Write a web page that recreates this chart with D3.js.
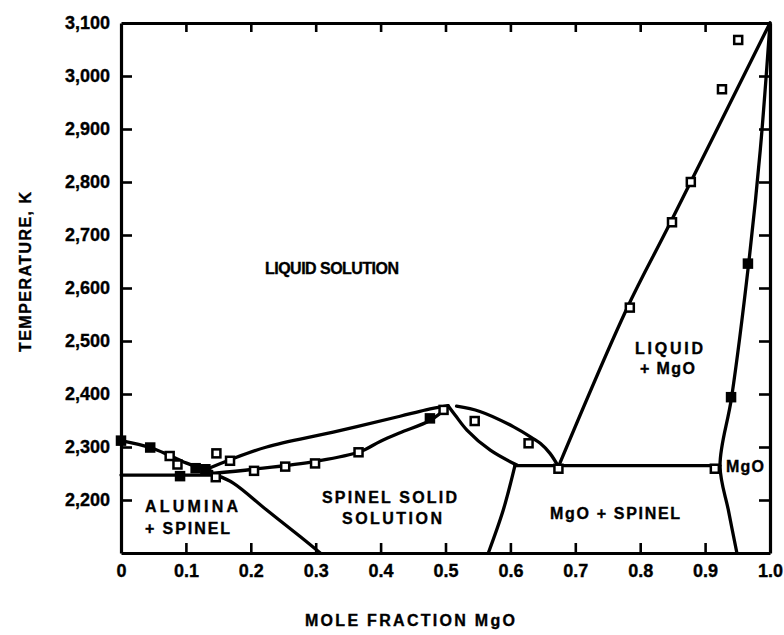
<!DOCTYPE html>
<html>
<head>
<meta charset="utf-8">
<script src="https://cdn.jsdelivr.net/npm/d3@7"></script>
<style>
  html, body { margin: 0; padding: 0; background: #fff; }
  svg { display: block; }
  text { font-family: "Liberation Sans", Arial, Helvetica, sans-serif; font-weight: bold; fill: #000; stroke: #000; stroke-width: 0.35px; }
</style>
</head>
<body>
<svg id="chart" width="784" height="635"></svg>
<script>
// ---------- data (mole fraction MgO, temperature K) ----------
const xTicks = [0, 0.1, 0.2, 0.3, 0.4, 0.5, 0.6, 0.7, 0.8, 0.9, 1.0];
const xTickLabels = ["0", "0.1", "0.2", "0.3", "0.4", "0.5", "0.6", "0.7", "0.8", "0.9", "1.0"];
const yTicks = [2200, 2300, 2400, 2500, 2600, 2700, 2800, 2900, 3000, 3100];

const leftLiquidus = [[0, 2312], [0.045, 2299], [0.075, 2284], [0.1, 2270], [0.125, 2260], [0.14, 2254]];
const spinelLiquidusLeft = [[0.13, 2257], [0.168, 2276], [0.2245, 2300], [0.327, 2328], [0.43, 2358], [0.47, 2370], [0.504, 2378]];
const spinelSolidusLeft = [[0.14, 2250], [0.204, 2258], [0.30, 2273], [0.368, 2291], [0.40, 2311], [0.43, 2327], [0.476, 2350], [0.504, 2376]];
const spinelSolidusRight = [[0.504, 2378], [0.515, 2360], [0.533, 2332], [0.569, 2294], [0.61, 2266]];
const spinelLiquidusRight = [[0.517, 2377], [0.553, 2367], [0.605, 2338], [0.635, 2316], [0.646, 2307], [0.661, 2288], [0.674, 2263]];
const leftEutectic = [[0, 2247], [0.147, 2247]];
const rightEutectic = [[0.607, 2265], [0.923, 2265]];
const leftSolvus = [[0.147, 2247], [0.173, 2232], [0.2245, 2181], [0.276, 2131], [0.307, 2100]];
const rightSolvus = [[0.607, 2265], [0.589, 2181], [0.566, 2100]];
const mgoLiquidus = [[0.674, 2263], [0.779, 2560], [0.846, 2722], [1.0, 3100]];
const mgoSolidus = [[1.0, 3100], [0.985, 2860], [0.967, 2645], [0.941, 2395], [0.923, 2265], [0.936, 2180], [0.949, 2100]];

const pointsX = [0, 0.045, 0.075, 0.087, 0.091, 0.115, 0.13, 0.146, 0.147, 0.168, 0.205, 0.253, 0.299, 0.366, 0.476, 0.497, 0.545, 0.628, 0.674, 0.784, 0.849, 0.878, 0.926, 0.951, 0.966, 0.940, 0.915];
const pointsT = [2312, 2299, 2283, 2267, 2245, 2260, 2258, 2243, 2288, 2274, 2255, 2263, 2269, 2290, 2354, 2370, 2349, 2307, 2259, 2563, 2724, 2800, 2975, 3068, 2646, 2394, 2259];
const pointsFilled = [1, 1, 0, 0, 1, 1, 1, 0, 0, 0, 0, 0, 0, 0, 1, 0, 0, 0, 0, 0, 0, 0, 0, 0, 1, 1, 0];

const regionLabels = [
  {text: "LIQUID SOLUTION", x: 265, y: 268, w: 134},
  {text: "ALUMINA", x: 145, y: 506, w: 93},
  {text: "+ SPINEL", x: 145, y: 528, w: 85},
  {text: "SPINEL SOLID", x: 322, y: 497, w: 135},
  {text: "SOLUTION", x: 342, y: 518, w: 100},
  {text: "MgO + SPINEL", x: 550, y: 513, w: 130},
  {text: "MgO", x: 726, y: 466, w: 38},
  {text: "LIQUID", x: 635, y: 348, w: 68},
  {text: "+ MgO", x: 640, y: 368, w: 55}
];

// ---------- chart ----------
const svg = d3.select("#chart");
const x = d3.scaleLinear().domain([0, 1]).range([121, 770]);
const y = d3.scaleLinear().domain([2100, 3100]).range([553, 23]);

const lineNat = d3.line().x(d => x(d[0])).y(d => y(d[1])).curve(d3.curveCatmullRom.alpha(0.5));

const curves = [leftLiquidus, spinelLiquidusLeft, spinelSolidusLeft, spinelSolidusRight,
  spinelLiquidusRight, leftEutectic, rightEutectic, leftSolvus, rightSolvus, mgoLiquidus, mgoSolidus];

const gCurves = svg.append("g");
curves.forEach(c => {
  gCurves.append("path")
    .attr("d", lineNat(c))
    .attr("fill", "none")
    .attr("stroke", "#000")
    .attr("stroke-width", 3.3)
    .attr("stroke-linejoin", "round")
    .attr("stroke-linecap", "round");
});

// axes
function styleAxis(g) {
  g.selectAll(".domain").attr("stroke", "#000").attr("stroke-width", 3.2);
  g.selectAll(".tick line").attr("stroke", "#000").attr("stroke-width", 2.6);
  g.selectAll(".tick text").attr("font-family", "Liberation Sans, Arial, sans-serif")
    .attr("font-weight", "bold").attr("font-size", 18).attr("fill", "#000");
}

const gx = svg.append("g").attr("transform", `translate(0,${y(2100)})`)
  .call(d3.axisBottom(x).tickValues(xTicks).tickFormat((d, i) => xTickLabels[i])
    .tickSizeInner(-10).tickSizeOuter(0).tickPadding(11));
styleAxis(gx);
gx.selectAll(".tick").filter(d => d === 0 || d === 1).select("line").remove();

const gxt = svg.append("g").attr("transform", `translate(0,${y(3100)})`)
  .call(d3.axisTop(x).tickValues(xTicks).tickFormat("").tickSizeInner(-9).tickSizeOuter(0));
styleAxis(gxt);
gxt.selectAll(".tick").filter(d => d === 0 || d === 1).select("line").remove();

const gy = svg.append("g").attr("transform", `translate(${x(0)},0)`)
  .call(d3.axisLeft(y).tickValues(yTicks).tickFormat(d3.format(",")).tickSizeInner(-11).tickSizeOuter(0).tickPadding(11));
styleAxis(gy);
gy.selectAll(".tick").filter(d => d === 3100).select("line").remove();

const gyr = svg.append("g").attr("transform", `translate(${x(1)},0)`)
  .call(d3.axisRight(y).tickValues(yTicks).tickFormat("").tickSizeInner(-11).tickSizeOuter(0));
styleAxis(gyr);
gyr.selectAll(".tick").filter(d => d === 3100).select("line").remove();

// data markers
const pts = pointsX.map((v, i) => ({x: v, t: pointsT[i], f: pointsFilled[i]}));
const s = 8;
svg.append("g").selectAll("rect").data(pts).enter().append("rect")
  .attr("x", d => x(d.x) - s / 2)
  .attr("y", d => y(d.t) - s / 2)
  .attr("width", s).attr("height", s)
  .attr("fill", d => d.f ? "#000" : "#fff")
  .attr("stroke", "#000").attr("stroke-width", 2.5);

// region labels
svg.append("g").selectAll("text").data(regionLabels).enter().append("text")
  .attr("x", d => d.x)
  .attr("y", d => d.y + 5.8)
  .attr("font-size", 16)
  .attr("textLength", d => d.w)
  .attr("lengthAdjust", "spacing")
  .text(d => d.text);

// axis titles
svg.append("text")
  .attr("transform", "translate(31,272) rotate(-90)")
  .attr("text-anchor", "middle")
  .attr("font-size", 16)
  .attr("textLength", 160)
  .attr("lengthAdjust", "spacing")
  .text("TEMPERATURE, K");

svg.append("text")
  .attr("x", 410).attr("y", 625.8)
  .attr("text-anchor", "middle")
  .attr("font-size", 16)
  .attr("textLength", 210)
  .attr("lengthAdjust", "spacing")
  .text("MOLE FRACTION MgO");
</script>
</body>
</html>
